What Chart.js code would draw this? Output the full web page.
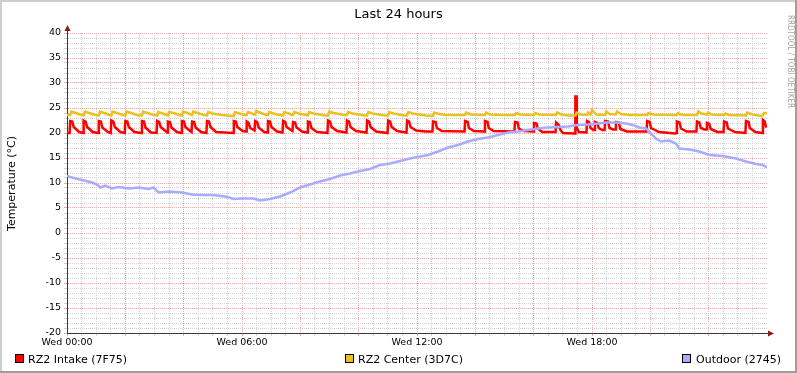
<!DOCTYPE html>
<html>
<head>
<meta charset="utf-8">
<script src="https://cdn.jsdelivr.net/npm/chart.js@4/dist/chart.umd.min.js"></script>
<style>
html, body { margin: 0; padding: 0; background: #ffffff; }
canvas { display: block; }
</style>
</head>
<body>
<canvas id="c" width="797" height="373"></canvas>
<script>
// ---------- text ----------
const chartTitle = 'Last 24 hours';
const yAxisTitle = 'Temperature (°C)';
const watermark = 'RRDTOOL / TOBI OETIKER';
const seriesLabels = ['RZ2 Intake (7F75)', 'RZ2 Center (3D7C)', 'Outdoor (2745)'];

// ---------- ticks ----------
const xTickHours = [0, 6, 12, 18];
const xTickLabels = ['Wed 00:00', 'Wed 06:00', 'Wed 12:00', 'Wed 18:00'];
const yTickValues = [-20, -15, -10, -5, 0, 5, 10, 15, 20, 25, 30, 35, 40];

// ---------- series: RZ2 Intake (hours since 00:00, °C) ----------
const intakeTimes = [0.00,0.09,0.11,0.18,0.23,0.42,0.55,0.57,0.64,0.69,0.88,1.07,1.09,1.16,1.21,1.40,1.50,1.52,1.59,1.64,1.83,1.98,2.00,2.07,2.12,2.31,2.55,2.57,2.64,2.69,2.88,3.07,3.09,3.16,3.21,3.40,3.44,3.46,3.53,3.58,3.77,3.92,3.94,4.01,4.06,4.22,4.27,4.29,4.36,4.41,4.60,4.78,4.80,4.87,4.92,5.11,5.70,5.72,5.79,5.84,6.02,6.14,6.16,6.22,6.28,6.40,6.43,6.45,6.52,6.57,6.76,6.87,6.89,6.96,7.01,7.20,7.39,7.41,7.48,7.53,7.70,7.73,7.75,7.82,7.87,8.06,8.24,8.26,8.33,8.38,8.57,8.93,8.95,9.02,9.07,9.26,9.58,9.60,9.67,9.72,9.91,10.27,10.29,10.36,10.41,10.60,10.99,11.01,11.08,11.13,11.32,11.64,11.66,11.73,11.78,11.97,12.30,12.53,12.55,12.64,12.68,12.85,13.63,13.65,13.74,13.78,13.95,14.31,14.33,14.42,14.46,14.63,15.34,15.36,15.45,15.49,15.66,15.99,16.01,16.10,16.14,16.30,16.75,16.77,16.86,16.92,17.00,17.42,17.43,17.47,17.48,17.55,17.81,17.83,17.90,17.95,18.05,18.08,18.10,18.18,18.23,18.35,18.43,18.45,18.55,18.60,18.72,18.80,18.82,18.92,18.97,19.20,19.87,19.89,19.98,20.02,20.30,20.85,20.90,20.91,21.00,21.05,21.25,21.58,21.60,21.68,21.73,21.85,21.92,21.94,22.02,22.07,22.30,22.51,22.53,22.62,22.66,22.90,23.26,23.28,23.37,23.41,23.60,23.83,23.86,23.92,23.96,24.00];
const intakeValues = [20.0,20.0,22.4,22.3,21.2,20.2,20.0,22.5,22.3,21.2,20.2,20.0,22.4,22.3,21.1,20.2,20.0,22.5,22.3,21.2,20.2,20.0,22.4,22.3,21.2,20.2,20.0,22.4,22.3,21.1,20.1,20.0,22.4,22.2,21.2,20.3,20.1,22.3,22.2,21.1,20.2,20.0,22.4,22.3,21.2,20.4,20.2,22.3,22.2,21.1,20.2,20.0,22.4,22.3,21.2,20.2,20.0,22.4,22.3,21.2,20.4,20.3,22.3,22.1,21.0,20.6,20.5,22.4,22.2,21.1,20.2,20.1,22.4,22.3,21.2,20.3,20.1,22.4,22.2,21.2,20.5,20.4,22.2,22.1,21.1,20.3,20.1,22.3,22.2,21.0,20.2,20.0,22.5,22.3,21.2,20.4,20.1,22.5,22.3,21.2,20.4,20.1,22.5,22.3,21.2,20.3,20.0,22.5,22.3,21.2,20.4,20.1,22.5,22.3,21.2,20.5,20.3,20.3,22.3,22.2,21.0,20.4,20.3,22.4,22.2,21.0,20.4,20.3,22.4,22.2,21.0,20.4,20.3,22.2,22.1,20.9,20.4,20.3,22.0,21.9,20.9,20.2,20.2,22.1,21.6,20.6,20.0,19.9,27.3,27.3,21.0,20.2,20.1,22.4,22.2,21.0,20.6,20.6,22.2,22.0,21.0,20.6,20.6,22.4,22.3,21.0,20.7,20.7,22.2,22.1,20.8,20.3,20.3,22.4,22.2,21.0,20.2,19.9,20.0,22.3,22.1,20.9,20.3,20.3,22.3,22.1,21.0,20.7,20.7,22.0,21.8,20.8,20.2,20.2,22.3,22.1,20.9,20.2,20.0,22.4,22.2,21.0,20.2,20.0,22.6,22.3,21.3,21.3];

// ---------- series: RZ2 Center ----------
const centerTimes = [0.00,0.11,0.15,0.30,0.50,0.57,0.61,0.76,0.98,1.09,1.13,1.28,1.45,1.52,1.56,1.71,1.92,2.00,2.04,2.19,2.45,2.57,2.61,2.76,2.98,3.09,3.13,3.28,3.42,3.46,3.50,3.65,3.85,3.94,3.98,4.13,4.25,4.29,4.33,4.48,4.70,4.80,4.84,4.99,5.30,5.65,5.72,5.76,5.91,6.10,6.16,6.20,6.30,6.40,6.45,6.49,6.64,6.85,6.89,6.93,7.08,7.35,7.41,7.45,7.60,7.72,7.75,7.79,7.94,8.20,8.26,8.30,8.45,8.85,8.95,8.99,9.14,9.50,9.60,9.64,9.79,10.20,10.29,10.33,10.48,10.90,11.01,11.05,11.20,11.55,11.66,11.70,11.85,12.30,12.55,12.59,12.75,13.00,13.65,13.69,13.85,14.33,14.37,14.50,15.00,15.36,15.40,15.55,16.01,16.05,16.20,16.77,16.81,16.95,17.20,17.43,17.47,17.60,17.83,17.87,17.95,18.00,18.05,18.15,18.45,18.49,18.60,18.82,18.86,19.00,19.30,19.89,19.93,20.10,20.91,20.95,21.10,21.60,21.64,21.75,21.94,21.98,22.10,22.53,22.57,22.70,23.28,23.32,23.50,23.80,23.86,23.90,24.00];
const centerValues = [23.6,23.6,24.3,24.0,23.6,23.5,24.3,24.0,23.6,23.5,24.3,24.0,23.6,23.5,24.3,24.0,23.6,23.5,24.3,24.0,23.5,23.5,24.3,24.0,23.6,23.5,24.2,23.9,23.6,23.5,24.2,24.0,23.6,23.5,24.3,24.0,23.7,23.6,24.3,24.0,23.6,23.5,24.2,23.9,23.6,23.4,23.4,24.2,23.9,23.6,23.6,24.2,24.0,23.7,23.7,24.4,24.0,23.6,23.6,24.2,23.9,23.5,23.5,24.2,23.9,23.6,23.6,24.2,23.9,23.6,23.5,24.2,23.9,23.5,23.5,24.3,24.0,23.6,23.6,24.2,23.9,23.5,23.5,24.2,23.9,23.5,23.5,24.2,23.9,23.5,23.5,24.2,23.9,23.5,23.4,24.1,23.8,23.6,23.6,24.1,23.7,23.6,24.1,23.7,23.6,23.6,24.0,23.7,23.6,24.0,23.7,23.6,24.1,23.7,23.5,23.5,24.1,23.7,23.6,24.1,23.7,24.6,24.3,23.7,23.6,24.3,23.8,23.7,24.3,23.8,23.6,23.6,24.0,23.7,23.6,24.0,23.6,23.6,24.3,23.9,23.7,24.1,23.7,23.6,23.9,23.6,23.5,24.1,23.7,23.4,23.5,24.0,24.0];

// ---------- series: Outdoor ----------
const outdoorTimes = [0.00,0.17,0.51,0.86,1.03,1.14,1.31,1.54,1.77,2.12,2.46,2.80,2.97,3.14,3.49,3.94,4.29,4.63,4.97,5.43,5.72,6.00,6.39,6.62,6.96,7.30,7.65,7.99,8.33,8.67,9.02,9.36,9.70,10.05,10.39,10.73,11.07,11.42,11.76,12.10,12.38,12.72,13.06,13.41,13.75,14.09,14.43,14.78,15.12,15.46,15.81,16.15,16.49,16.83,17.18,17.52,17.86,18.21,18.48,18.82,19.17,19.40,19.62,19.85,20.02,20.19,20.37,20.65,20.88,20.99,21.34,21.68,22.02,22.48,22.94,23.28,23.62,23.85,24.00];
const outdoorValues = [11.4,11.1,10.6,10.1,9.7,9.1,9.5,8.9,9.2,8.9,9.1,8.8,9.1,8.1,8.3,8.1,7.7,7.6,7.6,7.3,6.8,6.9,6.9,6.5,6.8,7.3,8.1,9.1,9.7,10.3,10.8,11.5,11.9,12.4,12.8,13.6,13.9,14.4,14.9,15.3,15.6,16.3,17.1,17.6,18.3,18.8,19.1,19.6,20.1,20.3,20.6,20.9,21.1,21.2,21.3,21.6,21.7,21.9,22.1,22.1,21.9,21.6,21.1,20.9,19.9,18.9,18.3,18.5,17.9,16.9,16.7,16.3,15.6,15.4,14.9,14.3,13.8,13.6,13.1];

// ---------- styling ----------
const FONT = 'DejaVu Sans';
const COLORS = ['#ff0000', '#eac11e', '#aaaaff'];
const AXIS_COLOR = '#3a3a3a';
const ARROW_COLOR = '#8e1a1a';
const MAJOR_GRID = '#eeaaaa';
const MINOR_GRID = '#d2d2d2';
const DOTS = [1, 1];

function toPoints(times, values) {
  return times.map((t, i) => ({ x: t, y: values[i] }));
}

function xGridColor(v) {
  if (v >= 24) return 'rgba(0,0,0,0)';
  return (Math.abs(v % 2) < 1e-9) ? MAJOR_GRID : MINOR_GRID;
}
function yGridColor(v) {
  return (Math.abs(v % 5) < 1e-9) ? MAJOR_GRID : MINOR_GRID;
}

const decoPlugin = {
  id: 'deco',
  beforeDraw(chart) {
    const ctx = chart.ctx;
    ctx.save();
    ctx.fillStyle = '#ffffff';
    ctx.fillRect(0, 0, chart.width, chart.height);
    ctx.restore();
  },
  afterDraw(chart) {
    const ctx = chart.ctx;
    const a = chart.chartArea;
    const W = chart.width, H = chart.height;
    ctx.save();

    // axis extensions and arrows
    const ax = Math.floor(a.left) + 0.5;
    const ay = Math.floor(a.bottom) + 0.5;
    ctx.strokeStyle = AXIS_COLOR;
    ctx.lineWidth = 1;
    ctx.setLineDash([]);
    ctx.beginPath();
    ctx.moveTo(ax, a.top); ctx.lineTo(ax, a.top - 3);
    ctx.moveTo(a.right, ay); ctx.lineTo(a.right + 2, ay);
    ctx.stroke();
    ctx.fillStyle = ARROW_COLOR;
    ctx.beginPath();
    ctx.moveTo(ax, a.top - 8);
    ctx.lineTo(ax - 3, a.top - 2);
    ctx.lineTo(ax + 3, a.top - 2);
    ctx.closePath();
    ctx.fill();
    ctx.beginPath();
    ctx.moveTo(a.right + 7, ay);
    ctx.lineTo(a.right + 1, ay - 3);
    ctx.lineTo(a.right + 1, ay + 3);
    ctx.closePath();
    ctx.fill();

    // title
    ctx.fillStyle = '#000000';
    ctx.font = '13px "' + FONT + '"';
    ctx.textAlign = 'center';
    ctx.textBaseline = 'alphabetic';
    ctx.fillText(chartTitle, W / 2, 18);

    // y axis title
    ctx.save();
    ctx.translate(14.5, 183.5);
    ctx.rotate(-Math.PI / 2);
    ctx.font = '11px "' + FONT + '"';
    ctx.textAlign = 'center';
    ctx.fillText(yAxisTitle, 0, 0);
    ctx.restore();

    // watermark
    ctx.save();
    ctx.translate(787.5, 15);
    ctx.rotate(Math.PI / 2);
    ctx.font = '8px "' + FONT + '"';
    ctx.textAlign = 'left';
    const wm = ctx.measureText(watermark).width;
    ctx.scale(93 / wm, 1);
    ctx.fillStyle = '#a4a4a4';
    ctx.fillText(watermark, 0, 0);
    ctx.restore();

    // legend
    const boxX = [15, 345, 682];
    const textX = [28, 358, 696];
    ctx.font = '11px "' + FONT + '"';
    ctx.textAlign = 'left';
    chart.data.datasets.forEach((ds, i) => {
      ctx.fillStyle = ds.borderColor;
      ctx.fillRect(boxX[i], 354, 9, 9);
      ctx.strokeStyle = '#000000';
      ctx.lineWidth = 1;
      ctx.strokeRect(boxX[i] + 0.5, 354.5, 8, 8);
      ctx.fillStyle = '#000000';
      ctx.fillText(ds.label, textX[i], 363);
    });

    // frame
    ctx.fillStyle = '#cfcfcf';
    ctx.fillRect(0, 0, W, 2);
    ctx.fillRect(0, 0, 2, H);
    ctx.fillStyle = '#9e9e9e';
    ctx.fillRect(0, H - 2, W, 2);
    ctx.fillRect(W - 2, 0, 2, H);
    ctx.restore();
  }
};

Chart.defaults.font.family = FONT;
Chart.defaults.color = '#000000';

const lineStyle = { borderWidth: 2.5, pointRadius: 0, tension: 0, fill: false, borderJoinStyle: 'miter', borderCapStyle: 'butt' };

new Chart(document.getElementById('c'), {
  type: 'line',
  data: {
    datasets: [
      Object.assign({ label: seriesLabels[0], data: toPoints(intakeTimes, intakeValues), borderColor: COLORS[0], backgroundColor: COLORS[0], order: 2 }, lineStyle),
      Object.assign({ label: seriesLabels[1], data: toPoints(centerTimes, centerValues), borderColor: COLORS[1], backgroundColor: COLORS[1], order: 1 }, lineStyle),
      Object.assign({ label: seriesLabels[2], data: toPoints(outdoorTimes, outdoorValues), borderColor: COLORS[2], backgroundColor: COLORS[2], order: 0 }, lineStyle)
    ]
  },
  options: {
    responsive: false,
    animation: false,
    devicePixelRatio: 1,
    events: [],
    layout: { padding: { left: 0, right: 30, top: 33, bottom: 0 } },
    plugins: {
      legend: { display: false },
      title: { display: false },
      tooltip: { enabled: false }
    },
    scales: {
      x: {
        type: 'linear',
        min: 0,
        max: 24,
        afterFit(scale) { scale.height = 40; },
        ticks: {
          stepSize: 0.5,
          autoSkip: false,
          maxRotation: 0,
          minRotation: 0,
          padding: 1,
          font: { size: 9.5 },
          callback: (v) => { const i = xTickHours.indexOf(v); return i >= 0 ? xTickLabels[i] : ''; }
        },
        grid: {
          color: (c) => xGridColor(c.tick.value),
          tickColor: (c) => xGridColor(c.tick.value),
          tickLength: 3,
          lineWidth: 1,
          borderDash: DOTS,
          tickBorderDash: []
        },
        border: { display: true, color: AXIS_COLOR, width: 1, dash: DOTS }
      },
      y: {
        type: 'linear',
        min: -20,
        max: 40,
        afterFit(scale) { scale.width = 67; },
        ticks: {
          stepSize: 1,
          autoSkip: false,
          padding: 3,
          font: { size: 9.5 },
          callback: (v) => yTickValues.includes(v) ? String(v) : ''
        },
        grid: {
          color: (c) => yGridColor(c.tick.value),
          tickColor: (c) => yGridColor(c.tick.value),
          tickLength: 3,
          lineWidth: 1,
          borderDash: DOTS,
          tickBorderDash: []
        },
        border: { display: true, color: AXIS_COLOR, width: 1, dash: DOTS }
      }
    }
  },
  plugins: [decoPlugin]
});
</script>
</body>
</html>
